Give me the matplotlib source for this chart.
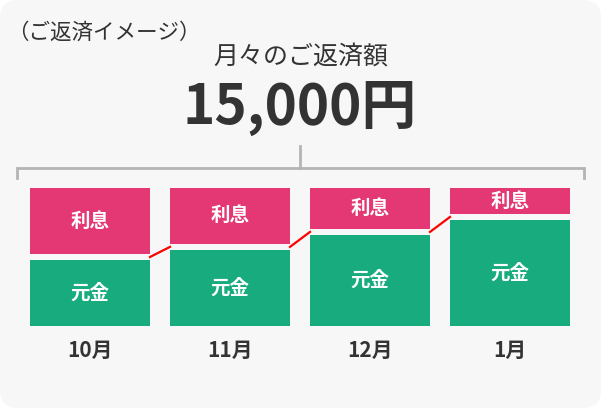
import numpy as np
import matplotlib
matplotlib.use("Agg")
import matplotlib.pyplot as plt
from matplotlib.patches import FancyBboxPatch

plt.rcParams['font.family'] = ['Noto Sans CJK JP', 'DejaVu Sans']

# data (yen)
months = ['10月', '11月', '12月', '1月']
principal = [7500, 8650, 10350, 12050]
interest = [7500, 6350, 4650, 2950]
principal_label = '元金'
interest_label = '利息'
title_small = '（ご返済イメージ）'
title = '月々のご返済額'
amount = '15,000円'

bg = '#f7f7f7'
green = '#17ab7d'
pink = '#e33873'
dark = '#333333'

W, H = 601, 408
fig = plt.figure(figsize=(W / 100, H / 100), dpi=100, facecolor='white')

# overlay in pixel coords
ax0 = fig.add_axes([0, 0, 1, 1])
ax0.set_xlim(0, W)
ax0.set_ylim(H, 0)
ax0.axis('off')
ax0.add_patch(FancyBboxPatch((0, 0), W, H, boxstyle='round,pad=0,rounding_size=18',
                             fc=bg, ec='none'))

ax0.text(104, 33, title_small, ha='center', va='center', fontsize=15.5, color=dark)
ax0.text(301, 57, title, ha='center', va='center', fontsize=18, color=dark)
ax0.text(300, 124, amount, ha='center', va='baseline', fontsize=39.5,
         fontweight='bold', color=dark)

# bracket
bc = '#b4b4b4'
ax0.plot([16.5, 16.5, 584, 584], [178, 167.5, 167.5, 178], color=bc, lw=2,
         solid_joinstyle='miter')
ax0.plot([300, 300], [146, 167.5], color=bc, lw=2)

# bars
ax = fig.add_axes([20 / W, (H - 326) / H, 560 / W, 138 / H])
ax.patch.set_visible(False)
total = principal[0] + interest[0]
gap = 6 * total / 132
ax.set_xlim(-0.5, len(months) - 0.5)
ax.set_ylim(0, total + gap)
ax.axis('off')

x = np.arange(len(months))
w = 120 / 140
p = np.array(principal)
q = np.array(interest)
ax.bar(x, p, width=w, color=green)
ax.bar(x, q, width=w, bottom=p + gap, color=pink)

for i in range(len(months)):
    ax.text(x[i], p[i] / 2, principal_label, ha='center', va='center',
            fontsize=14, fontweight='bold', color='white')
    ax.text(x[i], p[i] + gap + q[i] / 2, interest_label, ha='center', va='center',
            fontsize=14, fontweight='bold', color='white')
    ax.annotate(months[i], xy=(x[i], 0), xytext=(0, -17.5), textcoords='offset points',
                ha='center', va='center', fontsize=15, fontweight='bold', color=dark)
    if i < len(months) - 1:
        ax.plot([x[i] + w / 2, x[i + 1] - w / 2],
                [p[i] + gap / 2, p[i + 1] + gap / 2], color='#ff0000', lw=1.6)

fig.savefig('out.png', dpi=100, facecolor='white')
